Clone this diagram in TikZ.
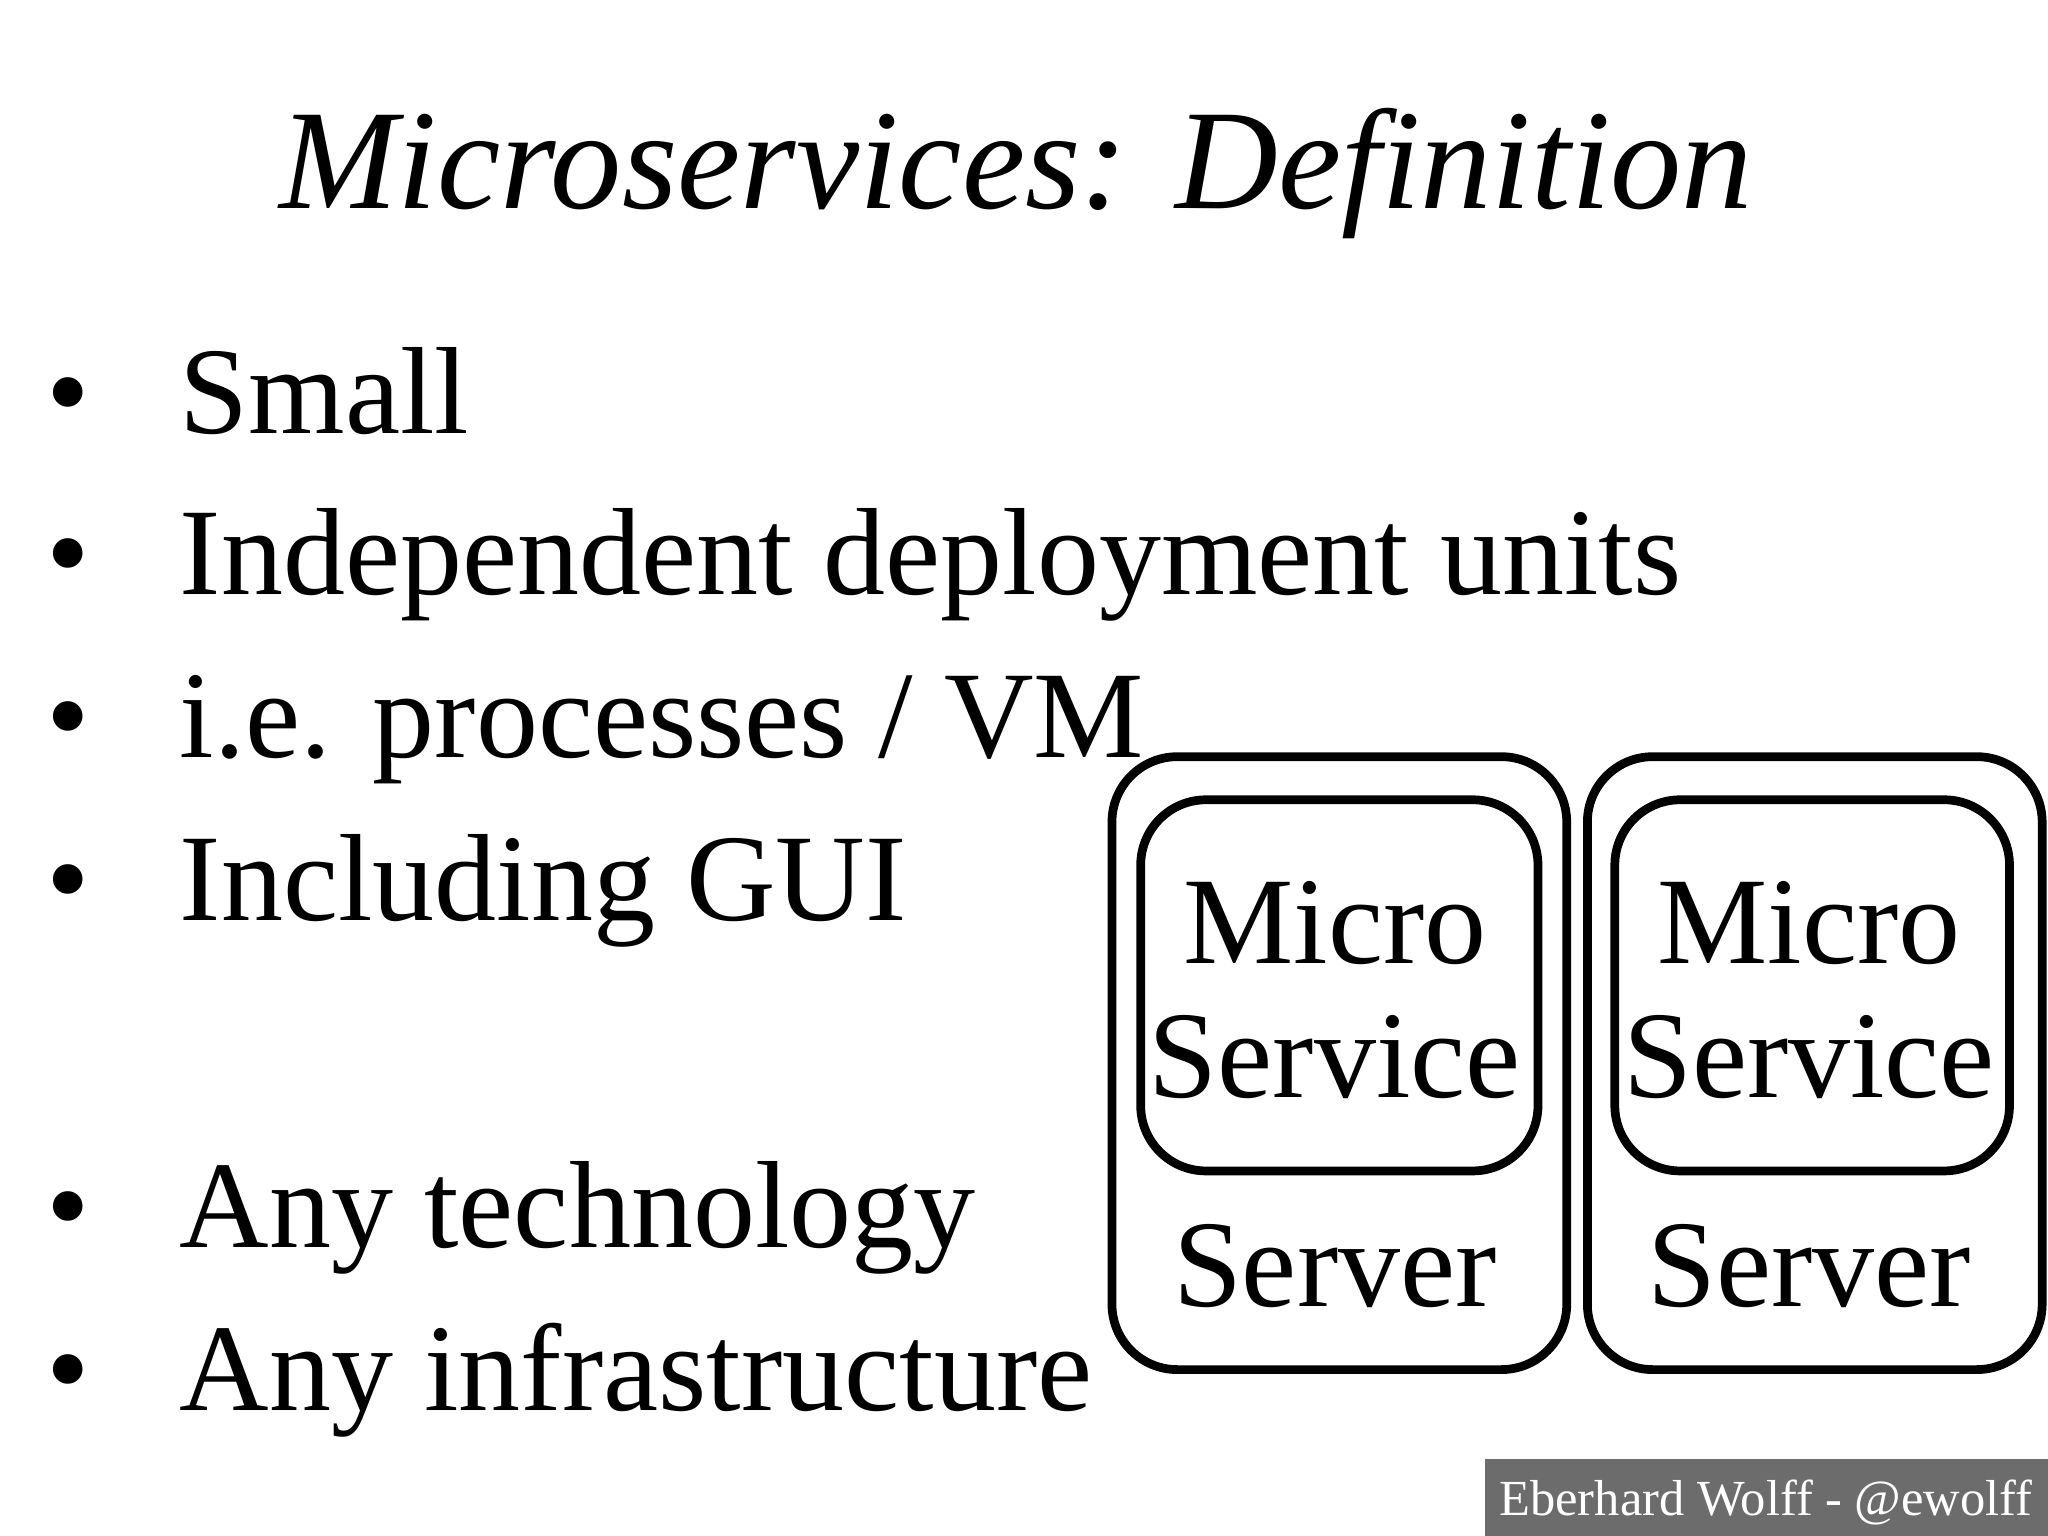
\documentclass[tikz,border=0pt]{standalone}
\usepackage{fontspec}
\setmainfont{Liberation Serif}
\begin{document}
\begin{tikzpicture}[x=0.01cm,y=-0.01cm,
  box/.style={draw,line width=1.9pt,rounded corners=0.5cm},
  bul/.style={anchor=base west,inner sep=0,font=\fontsize{27}{30}\selectfont},
  dot/.style={anchor=base,inner sep=0,font=\fontsize{27}{30}\selectfont},
  btxt/.style={anchor=base,inner sep=0,font=\fontsize{27}{30}\selectfont}]
\useasboundingbox (0,0) rectangle (1568,1176);
\node[anchor=base,inner sep=0,font=\fontsize{31}{34}\selectfont\itshape] (title) at (778,160) {Microservices: Definition};
\foreach \n/\y/\t in {a/332/Small,b/455/Independent deployment units,c/580/{i.e. processes / VM},d/705/Including GUI,e/955/Any technology,f/1080/Any infrastructure}{
  \node[dot] (d\n) at (52,\y) {•};
  \node[bul] (t\n) at (137,\y) {\t};
}
\node[box,minimum width=3.48cm,minimum height=4.69cm,anchor=north west] (o1) at (848,576) {};
\node[box,minimum width=3.04cm,minimum height=2.84cm,anchor=north west] (i1) at (870,609) {};
\node[box,minimum width=3.48cm,minimum height=4.69cm,anchor=north west] (o2) at (1212,576) {};
\node[box,minimum width=3.02cm,minimum height=2.84cm,anchor=north west] (i2) at (1233,609) {};
\foreach \k/\x in {1/1022,2/1385}{
  \node[btxt] (m\k) at (\x,738) {Micro};
  \node[btxt] (s\k) at (\x,840) {Service};
  \node[btxt] (v\k) at (\x,1000) {Server};
}
\fill[gray!85!black] (1137,1117) rectangle (1568,1176);
\node[anchor=base,inner sep=0,text=white,font=\fontsize{11}{13}\selectfont] (foot) at (1352,1160) {Eberhard Wolff - @ewolff};
\end{tikzpicture}
\end{document}
